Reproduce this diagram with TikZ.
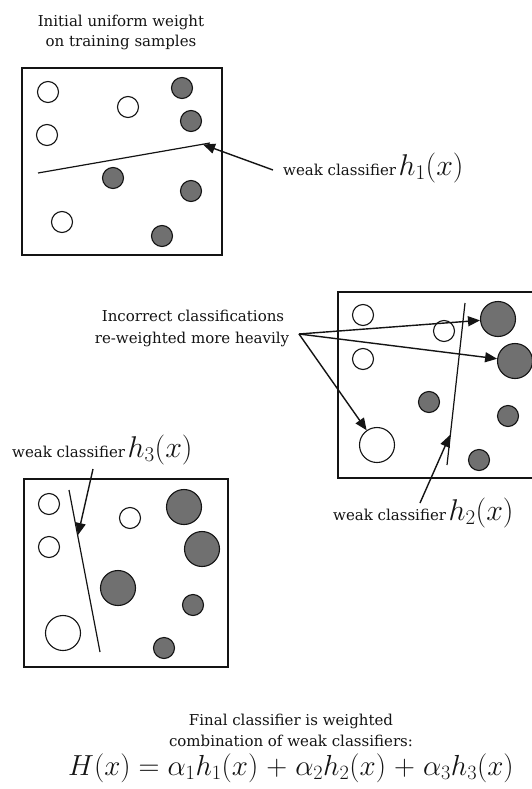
\RequirePackage{fix-cm}
\documentclass[tikz,border=0pt]{standalone}
\usepackage{fontspec}
\setmainfont{DejaVu Serif}
\usetikzlibrary{arrows.meta}
\definecolor{dotfill}{RGB}{112,112,112}
\definecolor{ink}{RGB}{20,20,20}
\tikzset{
  frame/.style={draw=ink, line width=2.6pt},
  opendot/.style={circle, draw=ink, line width=1.1pt, fill=white, minimum size=21pt, inner sep=0pt},
  filldot/.style={circle, draw=ink, line width=1.1pt, fill=dotfill, minimum size=21pt, inner sep=0pt},
  bigopen/.style={opendot, minimum size=35pt},
  bigfill/.style={filldot, minimum size=35pt},
  sep/.style={draw=ink, line width=1.2pt},
  ptr/.style={draw=ink, line width=1.4pt, -{Triangle[length=12pt,width=10pt]}},
  txt/.style={inner sep=0pt, font=\fontsize{15}{18}\selectfont, text=ink},
}
\newcommand{\hmath}[1]{{\fontsize{30}{33}\selectfont$#1$}}
\newcommand{\fmath}[1]{{\fontsize{29}{32}\selectfont$#1$}}
\begin{document}
\begin{tikzpicture}[x=1pt,y=-1pt]
\useasboundingbox (0,0) rectangle (532,789);
\fill[white] (0,0) rectangle (532,789);

% ---------- title ----------
\node[txt, anchor=base] (t1) at (121,27) {Initial uniform weight};
\node[txt, anchor=base] (t2) at (121,47) {on training samples};

% ---------- box 1 ----------
\draw[frame] (22,68) rectangle (222,255);
\node[opendot] (a1) at (48,92) {};
\node[opendot] (a2) at (128,107) {};
\node[filldot] (a3) at (182,88) {};
\node[filldot] (a4) at (191,121) {};
\node[opendot] (a5) at (47,135) {};
\node[filldot] (a6) at (113,178) {};
\node[filldot] (a7) at (191,191) {};
\node[opendot] (a8) at (62,222) {};
\node[filldot] (a9) at (162,236) {};
\coordinate (h1s) at (38,173);
\coordinate (h1e) at (210,143);
\draw[sep] (h1s) -- (h1e);
\coordinate (h1tip) at (203,144.5);
\node[txt, anchor=base west] (l1) at (283,175) {weak classifier\,\hmath{h_1(x)}};
\coordinate (l1tail) at (273,170);
\draw[ptr] (l1tail) -- (h1tip);

% ---------- box 2 (right side runs off the picture) ----------
\draw[frame] (538,292) -- (338,292) -- (338,478) -- (538,478);
\node[opendot] (b1) at (363,315) {};
\node[opendot] (b2) at (444,331) {};
\node[opendot] (b3) at (363,359) {};
\node[bigfill] (b4) at (498,319) {};
\node[bigfill] (b5) at (515,361) {};
\node[filldot] (b6) at (429,402) {};
\node[filldot] (b7) at (508,416) {};
\node[bigopen] (b8) at (377,445) {};
\node[filldot] (b9) at (479,460) {};
\coordinate (h2s) at (465,303);
\coordinate (h2e) at (447,465);
\draw[sep] (h2s) -- (h2e);
\coordinate (h2tip) at (450,435);
\node[txt, anchor=base west] (l2) at (333,520) {weak classifier\,\hmath{h_2(x)}};
\coordinate (l2tail) at (420,503);
\draw[ptr] (l2tail) -- (h2tip);

% ---------- incorrect classifications ----------
\node[txt, anchor=base] (i1) at (193,321) {Incorrect classifications};
\node[txt, anchor=base] (i2) at (192,343) {re-weighted more heavily};
\coordinate (apex) at (299,334);
\draw[ptr] (apex) -- (b4);
\draw[ptr] (apex) -- (b5);
\draw[ptr] (apex) -- (b8);

% ---------- box 3 ----------
\node[txt, anchor=base west] (l3) at (12,457) {weak classifier\,\hmath{h_3(x)}};
\draw[frame] (24,479) rectangle (228,667);
\node[opendot] (c1) at (49,504) {};
\node[opendot] (c2) at (130,518) {};
\node[bigfill] (c3) at (184,507) {};
\node[opendot] (c4) at (49,547) {};
\node[bigfill] (c5) at (202,549) {};
\node[bigfill] (c6) at (118,588) {};
\node[filldot] (c7) at (193,605) {};
\node[bigopen] (c8) at (63,633) {};
\node[filldot] (c9) at (164,648) {};
\coordinate (h3s) at (69,490);
\coordinate (h3e) at (100,652);
\draw[sep] (h3s) -- (h3e);
\coordinate (h3tip) at (78,535);
\coordinate (l3tail) at (93,469);
\draw[ptr] (l3tail) -- (h3tip);

% ---------- final classifier ----------
\node[txt, anchor=base] (f1) at (291,725) {Final classifier is weighted};
\node[txt, anchor=base] (f2) at (291,746) {combination of weak classifiers:};
\node[inner sep=0pt, anchor=base, text=ink] (f3) at (291,775)
  {\fmath{H(x)\mkern5mu{=}\mkern5mu\alpha_1h_1(x)\mkern5mu{+}\mkern5mu\alpha_2h_2(x)\mkern5mu{+}\mkern5mu\alpha_3h_3(x)}};
\end{tikzpicture}
\end{document}
